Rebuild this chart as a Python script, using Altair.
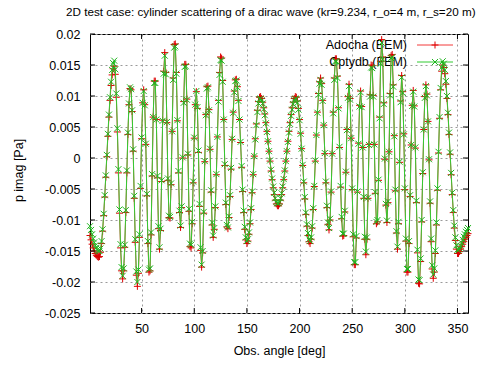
import altair as alt
import pandas as pd

# ---------------- data ----------------
angle_deg = list(range(1, 361))

# p imag in units of 1e-3 Pa
adocha_bem_mPa = [
    -12.5, -13.2, -13.9, -14.5, -15.0, -15.4, -15.7, -15.9, -16.0,
    -15.9, -15.2, -13.8, -11.8, -9.3, -6.3, -3.1, 0.2, 3.5, 6.6, 9.3, 11.7, 13.4, 14.4, 14.8,
    13.5, 9.8, 4.2, -2.4, -8.9, -14.5, -18.2, -19.5,
    -18.2, -14.4, -8.8, -2.4, 3.8, 8.6, 11.2,
    11.0, 7.5, 1.1, -6.5, -13.6, -18.9, -20.7,
    -18.6, -12.8, -4.9, 3.1, 8.9, 11.0,
    8.6, 2.2, -6.1, -13.8, -18.4,
    -18.2, -12.4, -2.9, 6.6, 12.4,
    12.4, 6.2, -3.2, -11.4, -14.7,
    -11.7, -3.8, 6.1, 14.0, 17.0,
    13.8, 5.7, -3.6, -9.6,
    -9.7, -4.3, 4.3, 12.9, 18.3,
    18.4, 13.8, 6.0, -2.4, -8.8, -11.2,
    -8.0, 0.0, 9.1, 15.1,
    15.1, 9.5, 0.5, -8.6, -14.3,
    -14.5, -10.6, -4.0, 3.2, 8.6, 10.7,
    8.0, 0.9, -7.8, -14.9, -17.6,
    -15.3, -8.9, -0.6, 7.0, 11.5,
    11.6, 7.8, 1.4, -5.5, -10.8, -12.8,
    -11.5, -8.0, -2.7, 3.4, 9.3, 13.8, 16.3,
    16.1, 12.5, 6.2, -1.2, -7.5, -11.1,
    -11.4, -9.6, -6.2, -1.8, 3.0, 7.4, 10.8, 12.6,
    12.7, 11.5, 9.3, 6.2, 2.5, -1.5, -5.4, -8.8, -11.5, -13.2, -13.8,
    -13.4, -12.3, -10.6, -8.3, -5.6, -2.7, 0.3, 3.1, 5.5, 7.7, 9.1, 9.8,
    9.9, 9.6, 9.0, 8.1, 7.1, 5.7, 4.3, 2.7, 1.1, -0.5, -2.1, -3.5, -4.8, -5.9, -6.8, -7.4, -7.7,
    -7.7, -7.4, -6.8, -5.9, -4.8, -3.5, -2.1, -0.5, 1.1, 2.7, 4.3, 5.7, 7.0, 8.1, 9.0, 9.6, 9.9,
    9.8, 9.2, 8.0, 6.2, 4.0, 1.5, -1.2, -4.0, -6.6, -9.1, -11.0, -12.5, -13.5, -13.8,
    -13.1, -11.3, -8.3, -4.6, -0.5, 3.7, 7.4, 10.4, 12.3, 12.9,
    12.0, 9.3, 5.3, 0.7, -4.0, -8.0, -10.7, -11.6,
    -10.0, -5.5, 0.7, 7.4, 12.9, 16.0,
    16.0, 13.2, 8.1, 1.7, -4.7, -9.8, -12.6,
    -12.5, -8.7, -2.3, 4.6, 9.9, 11.9,
    9.6, 3.2, -5.1, -12.7, -17.2,
    -17.2, -12.9, -5.5, 2.4, 8.5, 10.8,
    8.3, 1.7, -6.5, -13.1, -15.6,
    -13.1, -6.5, 2.2, 10.2, 15.0,
    14.9, 10.1, 2.2, -5.7, -10.6,
    -10.3, -3.6, 6.6, 15.6, 19.1,
    16.3, 8.9, -0.2, -7.6, -10.4,
    -7.2, 1.0, 10.4, 16.5,
    16.7, 11.8, 3.6, -5.3, -12.1, -14.7,
    -10.6, -0.7, 9.2, 13.3,
    10.7, 3.9, -5.1, -13.4, -18.4,
    -18.4, -13.8, -6.2, 2.1, 8.5, 10.9,
    8.4, 1.6, -7.2, -15.3, -20.2,
    -20.3, -16.7, -10.3, -2.5, 4.6, 9.9, 11.8,
    10.3, 5.9, -0.3, -7.3, -13.5, -17.9, -19.4,
    -18.4, -15.4, -10.8, -5.2, 0.8, 6.4, 11.0, 14.0, 15.0,
    14.6, 13.6, 11.9, 9.6, 7.0, 3.8, 0.6, -2.7, -5.9, -8.8, -11.3, -13.3, -14.7, -15.4,
    -15.4, -15.1, -14.7, -14.3, -13.9, -13.5, -13.1, -12.8, -12.5, -12.2,
]

cptydb_fem_mPa = [
    -11.0, -11.6, -12.3, -13.0, -13.6, -14.1, -14.5, -14.8, -15.0,
    -15.0, -14.6, -13.4, -11.5, -9.0, -6.0, -2.8, 0.5, 3.9, 7.0, 9.8, 12.3, 14.2, 15.3, 15.7,
    14.3, 10.4, 4.8, -1.8, -8.3, -13.9, -17.6, -19.0,
    -17.8, -14.0, -8.4, -2.0, 4.1, 8.8, 11.4,
    11.1, 7.7, 1.4, -6.1, -13.1, -18.3, -20.0,
    -18.0, -12.3, -4.5, 3.3, 8.9, 10.8,
    8.5, 2.3, -5.8, -13.4, -18.0,
    -17.8, -12.0, -2.6, 6.6, 12.1,
    12.1, 6.2, -2.9, -11.0, -14.4,
    -11.4, -3.6, 6.0, 13.6, 16.5,
    13.5, 5.8, -3.3, -9.3,
    -9.5, -4.1, 4.3, 12.6, 17.8,
    18.0, 13.6, 6.1, -2.1, -8.5, -10.9,
    -7.8, 0.1, 8.9, 14.7,
    14.8, 9.4, 0.7, -8.2, -13.8,
    -14.0, -10.3, -3.8, 3.3, 8.6, 10.8,
    8.2, 1.2, -7.4, -14.4, -17.2,
    -15.0, -8.7, -0.5, 6.9, 11.2,
    11.4, 7.7, 1.5, -5.2, -10.4, -12.5,
    -11.3, -7.8, -2.6, 3.4, 9.1, 13.4, 15.8,
    15.7, 12.3, 6.2, -1.0, -7.2, -10.8,
    -11.2, -9.4, -6.0, -1.6, 3.1, 7.3, 10.6, 12.4,
    12.5, 11.4, 9.2, 6.2, 2.6, -1.3, -5.1, -8.5, -11.1, -12.8, -13.4,
    -13.1, -12.0, -10.4, -8.1, -5.4, -2.6, 0.3, 3.0, 5.3, 7.4, 8.8, 9.5,
    9.6, 9.3, 8.8, 7.9, 6.9, 5.6, 4.2, 2.7, 1.1, -0.4, -1.9, -3.3, -4.6, -5.6, -6.5, -7.1, -7.3,
    -7.3, -7.1, -6.5, -5.7, -4.6, -3.4, -2.0, -0.5, 1.1, 2.6, 4.1, 5.5, 6.8, 7.8, 8.7, 9.3, 9.6,
    9.5, 8.9, 7.8, 6.1, 3.9, 1.5, -1.1, -3.8, -6.3, -8.8, -10.7, -12.1, -13.1, -13.4,
    -12.8, -11.0, -8.1, -4.5, -0.4, 3.7, 7.3, 10.2, 12.0, 12.6,
    11.8, 9.2, 5.3, 0.8, -3.8, -7.7, -10.4, -11.3,
    -9.8, -5.4, 0.7, 7.2, 12.6, 15.6,
    15.6, 12.9, 8.0, 1.8, -4.5, -9.5, -12.2,
    -12.2, -8.5, -2.2, 4.5, 9.7, 11.6,
    9.4, 3.2, -4.9, -12.3, -16.8,
    -16.8, -12.6, -5.4, 2.3, 8.3, 10.6,
    8.2, 1.7, -6.3, -12.7, -15.1,
    -12.8, -6.4, 2.1, 9.9, 14.6,
    14.5, 9.9, 2.2, -5.5, -10.3,
    -10.0, -3.5, 6.4, 15.2, 18.6,
    15.9, 8.7, -0.1, -7.4, -10.1,
    -7.0, 1.0, 10.1, 16.1,
    16.3, 11.5, 3.5, -5.1, -11.8, -14.3,
    -10.3, -0.6, 9.0, 13.0,
    10.5, 3.8, -4.9, -13.0, -17.9,
    -17.9, -13.4, -6.0, 2.1, 8.4, 10.7,
    8.3, 1.7, -6.9, -14.8, -19.6,
    -19.7, -16.2, -10.0, -2.3, 4.6, 9.7, 11.6,
    10.1, 5.9, -0.2, -7.0, -13.0, -17.3, -18.8,
    -17.8, -14.9, -10.4, -4.9, 1.0, 6.6, 11.3, 14.6, 15.6,
    15.2, 14.2, 12.4, 10.0, 7.3, 4.1, 0.9, -2.4, -5.6, -8.4, -10.9, -12.8, -14.1, -14.8,
    -14.9, -14.6, -14.2, -13.7, -13.2, -12.7, -12.3, -11.9, -11.6, -11.3,
]

series_names = ["Adocha (BEM)", "Cptydb (FEM)"]
x_tick_values = [50, 100, 150, 200, 250, 300, 350]
y_tick_values = [-0.025, -0.02, -0.015, -0.01, -0.005, 0, 0.005, 0.01, 0.015, 0.02]
chart_title = "2D test case: cylinder scattering of a dirac wave (kr=9.234, r_o=4 m, r_s=20 m)"

# ---------------- styling ----------------
FONT = "Liberation Sans"
FS = 12.5
TITLE_FS = 11.7
RED_LINE, RED_PT = "#f23a3a", "#dd0000"
GRN_LINE, GRN_PT = "#33cc33", "#1fb51f"
PLUS = "M-1,0L1,0M0,-1L0,1"
XMARK = "M-1,-1L1,1M-1,1L1,-1"
W, H = 378, 279

df = pd.DataFrame({
    "angle": angle_deg + angle_deg,
    "p": [v / 1000 for v in adocha_bem_mPa] + [v / 1000 for v in cptydb_fem_mPa],
    "series": [series_names[0]] * len(angle_deg) + [series_names[1]] * len(angle_deg),
})

xscale = alt.Scale(domain=[1, 360], nice=False, zero=False)
yscale = alt.Scale(domain=[-0.025, 0.02], nice=False, zero=False)

x_axis = alt.Axis(
    values=x_tick_values, title="Obs. angle [deg]", ticks=False, domain=False,
    grid=True, gridDash=[2, 3], gridColor="#9a9a9a", gridWidth=1,
    labelFont=FONT, labelFontSize=FS, labelColor="black", labelPadding=9,
    titleFont=FONT, titleFontSize=FS, titleFontWeight="normal", titleColor="black",
    titleY=37, titleBaseline="middle",
)
y_axis = alt.Axis(
    values=y_tick_values, title="p imag [Pa]", ticks=False, domain=False,
    grid=True, gridDash=[2, 3], gridColor="#9a9a9a", gridWidth=1,
    labelFont=FONT, labelFontSize=FS, labelColor="black", labelPadding=10,
    labelExpr="replace(format(datum.value, '~g'), '\u2212', '-')",
    titleFont=FONT, titleFontSize=FS, titleFontWeight="normal", titleColor="black",
    titleX=-72, titleY=136, titleBaseline="middle", titleAlign="center",
)

X = alt.X("angle:Q", scale=xscale, axis=x_axis)
Y = alt.Y("p:Q", scale=yscale, axis=y_axis)

base = alt.Chart(df)


def series_layers(name, line_color, pt_color, shape, size):
    sub = base.transform_filter(alt.datum.series == name)
    line = sub.mark_line(color=line_color, strokeWidth=1).encode(x=X, y=Y)
    pts = sub.mark_point(shape=shape, filled=False, color=pt_color, strokeWidth=1,
                         size=size, opacity=1).encode(x=X, y=Y)
    return [line, pts]


# legend (drawn before the data, as in the reference)
legend_layers = []
for i, (name, lc, pc, shp, sz) in enumerate([
    (series_names[0], RED_LINE, RED_PT, PLUS, 49),
    (series_names[1], GRN_LINE, GRN_PT, XMARK, 36),
]):
    yy = 11 + 17 * i
    one = alt.Chart(pd.DataFrame({"name": [name]}))
    legend_layers.append(one.mark_text(align="right", baseline="middle", font=FONT,
                                       fontSize=FS, color="black")
                         .encode(text="name:N", x=alt.value(317), y=alt.value(yy)))
    legend_layers.append(one.mark_rule(color=lc, strokeWidth=1)
                         .encode(x=alt.value(327), x2=alt.value(363), y=alt.value(yy)))
    legend_layers.append(one.mark_point(shape=shp, filled=False, color=pc, strokeWidth=1,
                                        size=sz, opacity=1)
                         .encode(x=alt.value(345), y=alt.value(yy)))

# inward tick marks on all four sides (same fields/axes as the data so axes merge)
xt = alt.Chart(pd.DataFrame({"angle": x_tick_values}))
yt = alt.Chart(pd.DataFrame({"p": y_tick_values}))
tick_layers = [
    xt.mark_rule(color="black", strokeWidth=1).encode(x=X, y=alt.value(H), y2=alt.value(H - 5)),
    xt.mark_rule(color="black", strokeWidth=1).encode(x=X, y=alt.value(0), y2=alt.value(5)),
    yt.mark_rule(color="black", strokeWidth=1).encode(y=Y, x=alt.value(0), x2=alt.value(5)),
    yt.mark_rule(color="black", strokeWidth=1).encode(y=Y, x=alt.value(W - 5), x2=alt.value(W)),
]

title_layer = alt.Chart(pd.DataFrame({"t": [chart_title]})).mark_text(
    align="left", baseline="middle", font=FONT, fontSize=TITLE_FS, color="black"
).encode(text="t:N", x=alt.value(-24), y=alt.value(-22))

layers = (legend_layers
          + series_layers(series_names[0], RED_LINE, RED_PT, PLUS, 49)
          + series_layers(series_names[1], GRN_LINE, GRN_PT, XMARK, 36)
          + tick_layers + [title_layer])

chart = alt.layer(*layers).properties(
    width=W, height=H,
    autosize=alt.AutoSizeParams(type="none"),
    padding={"left": 90, "top": 34, "right": 30, "bottom": 55},
    background="white",
).configure_view(stroke="black", strokeWidth=1)

chart.save("out.html", embed_options={"renderer": "svg", "actions": False})
